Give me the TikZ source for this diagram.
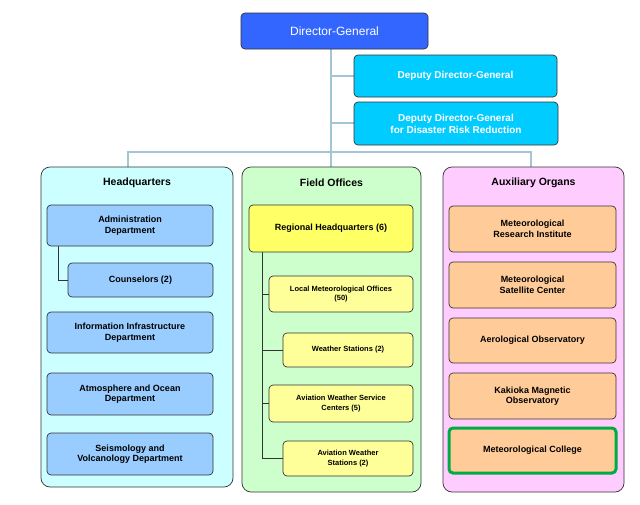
\documentclass[tikz,border=0pt]{standalone}
\usepackage{fontspec}
\setmainfont{Liberation Sans}
\begin{document}
\begin{tikzpicture}[x=1pt,y=-1pt,
 bx/.style={draw=black!80,rounded corners=4pt,line width=0.7pt,align=center,font=\bfseries\fontsize{9}{10.5}\selectfont},
 grp/.style={draw=black!80,rounded corners=9pt,line width=0.7pt},
 ttl/.style={font=\bfseries\fontsize{10.5}{12}\selectfont},
 tl/.style={draw=cyan!40!gray!60,line width=1.4pt},
 bl/.style={draw=black!80,line width=0.7pt}]
\useasboundingbox (0,0) rectangle (640,504);
\newcommand{\bxat}[6]{\node[bx,fill=#6,minimum width=#3-#1,minimum height=#4-#2,inner sep=1pt] (#5) at ({(#1+#3)/2},{(#2+#4)/2}) {};}
% trunk
\coordinate (t1) at (331,152); \coordinate (tl) at (128,152); \coordinate (tr) at (531,152);
\coordinate (tl2) at (128,167); \coordinate (tr2) at (531,167); \coordinate (tm) at (331,167);
\draw[tl] (331,49) -- (tm);
\draw[tl] (tl2) -- (tl) -- (tr) -- (tr2);
\draw[tl] (331,76) -- (354,76);
\draw[tl] (331,123) -- (354,123);
\node[draw=black!80,rounded corners=4pt,line width=0.7pt,fill=blue!60!cyan!70!white,fill={rgb,255:red,51;green,102;blue,255},text=white,minimum width=187,minimum height=36,font=\fontsize{12}{14}\selectfont] (dg) at (334.5,31) {Director-General};
\node[bx,fill={rgb,255:red,0;green,204;blue,255},text=white,minimum width=203,minimum height=42,font=\bfseries\fontsize{10}{12}\selectfont] (d1) at (455.5,76) {Deputy Director-General};
\node[bx,fill={rgb,255:red,0;green,204;blue,255},text=white,minimum width=204,minimum height=43,font=\bfseries\fontsize{10}{12}\selectfont] (d2) at (456,123.5) {Deputy Director-General\\for Disaster Risk Reduction};
% groups
\node[grp,fill={rgb,255:red,204;green,255;blue,255},minimum width=192,minimum height=320,inner sep=0] (hq) at (137,327) {};
\node[grp,fill={rgb,255:red,204;green,255;blue,204},minimum width=179,minimum height=325,inner sep=0] (fo) at (331.5,329.5) {};
\node[grp,fill={rgb,255:red,255;green,204;blue,255},minimum width=181,minimum height=325,inner sep=0] (ao) at (533.5,329.5) {};
\node[ttl] (hqt) at (137,183) {Headquarters};
\node[ttl] (fot) at (331.5,183) {Field Offices};
\node[ttl] (aot) at (533.5,183) {Auxiliary Organs};
% HQ
\tikzset{hqc/.style={fill={rgb,255:red,153;green,204;blue,255}}}
\draw[bl] (58,246) -- (58,280) -- (68,280);
\node[bx,hqc,minimum width=166,minimum height=41] (a1) at (130,225.5) {Administration\\Department};
\node[bx,hqc,minimum width=145,minimum height=34] (a2) at (140.5,280) {Counselors (2)};
\node[bx,hqc,minimum width=166,minimum height=41] (a3) at (130,332.5) {Information Infrastructure\\Department};
\node[bx,hqc,minimum width=166,minimum height=42] (a4) at (130,394) {Atmosphere and Ocean\\Department};
\node[bx,hqc,minimum width=166,minimum height=42] (a5) at (130,454) {Seismology and\\Volcanology Department};
% FO
\draw[bl] (262,252) -- (262,459);
\draw[bl] (262,294) -- (269,294);
\draw[bl] (262,350) -- (283,350);
\draw[bl] (262,403.5) -- (269,403.5);
\draw[bl] (262,458.5) -- (283,458.5);
\node[bx,fill={rgb,255:red,255;green,255;blue,102},minimum width=164,minimum height=47] (r0) at (331,228.5) {Regional Headquarters (6)};
\tikzset{fy/.style={fill={rgb,255:red,255;green,255;blue,153},font=\bfseries\fontsize{7.5}{9.5}\selectfont}}
\node[bx,fy,minimum width=144,minimum height=36] (r1) at (341,294) {Local Meteorological Offices\\(50)};
\node[bx,fy,minimum width=130,minimum height=34] (r2) at (348,350) {Weather Stations (2)};
\node[bx,fy,minimum width=144,minimum height=37] (r3) at (341,403.5) {Aviation Weather Service\\Centers (5)};
\node[bx,fy,minimum width=130,minimum height=35] (r4) at (348,458.5) {Aviation Weather\\Stations (2)};
% AO
\tikzset{ac/.style={fill={rgb,255:red,255;green,204;blue,153},minimum width=167}}
\node[bx,ac,minimum height=46] (o1) at (532.5,229) {Meteorological\\Research Institute};
\node[bx,ac,minimum height=46] (o2) at (532.5,285) {Meteorological\\Satellite Center};
\node[bx,ac,minimum height=45] (o3) at (532.5,340.5) {Aerological Observatory};
\node[bx,ac,minimum height=46] (o4) at (532.5,396) {Kakioka Magnetic\\Observatory};
\node[bx,ac,minimum height=45,draw={rgb,255:red,0;green,170;blue,68},line width=3pt] (o5) at (532.5,450.5) {Meteorological College};
\end{tikzpicture}
\end{document}
